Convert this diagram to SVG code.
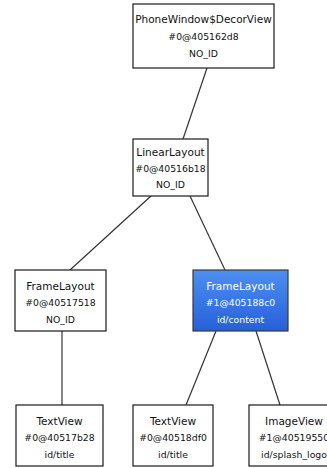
<svg xmlns="http://www.w3.org/2000/svg" width="327" height="468" viewBox="0 0 327 468">
<defs>
<linearGradient id="blue" x1="0" y1="0" x2="0" y2="1">
<stop offset="0" stop-color="#4d8ff2"/>
<stop offset="1" stop-color="#2660d8"/>
</linearGradient>
<style>
.box{fill:#fff;stroke:#1a1a1a;stroke-width:1.2}
.sel{fill:url(#blue);stroke:#3a3a3a;stroke-width:1.2}
.t1{font-family:"DejaVu Sans",sans-serif;font-size:10.5px;fill:#111;text-anchor:middle}
.t2{font-family:"DejaVu Sans",sans-serif;font-size:9.3px;fill:#111;text-anchor:middle}
.w{fill:#fff}
.edge{stroke:#333;stroke-width:1.2;fill:none}
</style>
</defs>
<rect width="327" height="468" fill="#fff"/>
<g id="connectors">
<line class="edge" x1="207" y1="68" x2="183" y2="139"/>
<line class="edge" x1="151" y1="196" x2="70" y2="270"/>
<line class="edge" x1="190" y1="196" x2="225" y2="270"/>
<line class="edge" x1="62" y1="331" x2="62" y2="405"/>
<line class="edge" x1="216" y1="331" x2="186" y2="405"/>
<line class="edge" x1="256" y1="331" x2="280" y2="405"/>
</g>
<g id="n-decor">
<rect class="box" x="133" y="4" width="141" height="64"/>
<text class="t1" x="203.5" y="23">PhoneWindow$DecorView</text>
<text class="t2" x="203.5" y="40">#0@405162d8</text>
<text class="t2" x="203.5" y="57">NO_ID</text>
</g>
<g id="n-linear">
<rect class="box" x="133" y="139" width="75" height="57"/>
<text class="t1" x="170.5" y="156">LinearLayout</text>
<text class="t2" x="170.5" y="172">#0@40516b18</text>
<text class="t2" x="170.5" y="188">NO_ID</text>
</g>
<g id="n-frame0">
<rect class="box" x="15" y="270" width="91" height="61"/>
<text class="t1" x="60.5" y="290">FrameLayout</text>
<text class="t2" x="60.5" y="306">#0@40517518</text>
<text class="t2" x="60.5" y="323">NO_ID</text>
</g>
<g id="n-frame1">
<rect class="sel" x="193" y="270" width="95" height="61"/>
<text class="t1 w" x="240.5" y="290">FrameLayout</text>
<text class="t2 w" x="240.5" y="306">#1@405188c0</text>
<text class="t2 w" x="240.5" y="323">id/content</text>
</g>
<g id="n-text0">
<rect class="box" x="16" y="405" width="87" height="61"/>
<text class="t1" x="59.5" y="425">TextView</text>
<text class="t2" x="59.5" y="441">#0@40517b28</text>
<text class="t2" x="59.5" y="458">id/title</text>
</g>
<g id="n-text1">
<rect class="box" x="133" y="405" width="80" height="61"/>
<text class="t1" x="173" y="425">TextView</text>
<text class="t2" x="173" y="441">#0@40518df0</text>
<text class="t2" x="173" y="458">id/title</text>
</g>
<g id="n-image">
<rect class="box" x="249" y="405" width="90" height="61"/>
<text class="t1" x="294" y="425">ImageView</text>
<text class="t2" x="294" y="441">#1@40519550</text>
<text class="t2" x="294" y="458">id/splash_logo</text>
</g>
</svg>
